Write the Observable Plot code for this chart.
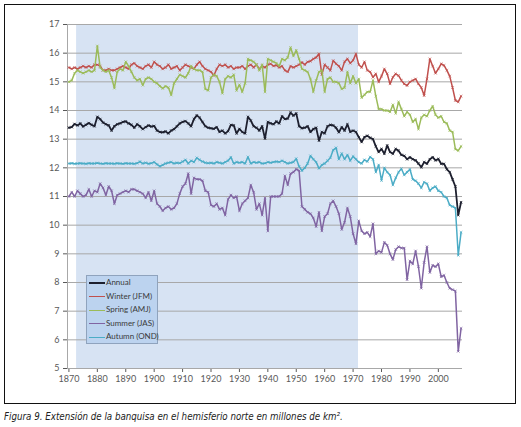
<!DOCTYPE html>
<html>
<head>
<meta charset="utf-8">
<script src="https://cdn.jsdelivr.net/npm/d3@7"></script>
<script src="https://cdn.jsdelivr.net/npm/@observablehq/plot@0.6"></script>
<style>
  body { margin: 0; background: #fff; width: 521px; height: 427px; position: relative; overflow: hidden; }
  #chart { position: absolute; left: 0; top: 0; }
  #frame { position: absolute; left: 4px; top: 4px; width: 510px; height: 398px; border: 1px solid #111; pointer-events: none; }
  #legend { position: absolute; left: 86px; top: 275px; width: 70px; height: 67px; background: #bcd3ef; border: 1px solid #8fa3bd; font: 8px Lato, sans-serif; color: #3a3a3a; }
  #legend .row { position: absolute; left: 2px; height: 10px; line-height: 10px; white-space: nowrap; }
  #legend .sw { display: inline-block; width: 16px; height: 0; vertical-align: middle; margin-right: 1px; }
  #caption { position: absolute; left: 4px; top: 410px; font: italic 11px "Liberation Sans Narrow", "DejaVu Sans Condensed", "Liberation Sans", sans-serif; color: #222; white-space: nowrap; transform: scaleX(0.88); transform-origin: left top; }
</style>
</head>
<body>
<div id="chart"></div>
<div id="frame"></div>
<div id="legend"></div>
<div id="caption">Figura 9. Extensión de la banquisa en el hemisferio norte en millones de km².</div>
<script>
const firstYear = 1870;
const xTicks = [1870, 1880, 1890, 1900, 1910, 1920, 1930, 1940, 1950, 1960, 1970, 1980, 1990, 2000];
const yTicks = [5, 6, 7, 8, 9, 10, 11, 12, 13, 14, 15, 16, 17];
const shadedPeriod = [1872.7, 1971.9];
const seriesNames = ["Annual", "Winter (JFM)", "Spring (AMJ)", "Summer (JAS)", "Autumn (OND)"];
const seriesColors = ["#1d1f2e", "#c0504d", "#9bbb59", "#8064a2", "#4bacc6"];

const annual = [
13.40,13.42,13.53,13.48,13.55,13.44,13.50,13.56,13.50,13.45,
13.78,13.70,13.58,13.52,13.48,13.30,13.45,13.52,13.55,13.60,
13.62,13.55,13.50,13.40,13.52,13.45,13.35,13.42,13.48,13.44,
13.46,13.30,13.25,13.24,13.27,13.20,13.30,13.35,13.45,13.55,
13.60,13.63,13.55,13.45,13.70,13.83,13.75,13.60,13.45,13.40,
13.38,13.36,13.42,13.25,13.30,13.20,13.28,13.50,13.48,13.20,
13.36,13.25,13.20,13.78,13.65,13.45,13.40,13.30,13.45,13.02,
13.60,13.55,13.52,13.62,13.55,13.80,13.70,13.72,13.93,13.82,
13.90,13.45,13.38,13.40,13.45,13.25,13.35,13.40,12.95,13.25,
13.20,13.45,13.50,13.48,13.40,13.24,13.42,13.30,13.52,13.25,
13.30,13.25,13.07,12.90,13.07,13.12,13.05,13.00,12.75,12.55,
12.66,12.49,12.78,12.55,12.49,12.66,12.60,12.45,12.42,12.30,
12.37,12.30,12.26,12.15,12.02,12.20,12.14,12.30,12.37,12.26,
12.31,12.14,12.14,11.95,11.85,11.60,11.35,10.35,10.80];

const winter = [
15.50,15.45,15.50,15.45,15.50,15.55,15.50,15.55,15.50,15.60,
15.60,15.55,15.40,15.40,15.45,15.40,15.40,15.45,15.50,15.55,
15.50,15.45,15.60,15.65,15.55,15.50,15.45,15.55,15.60,15.50,
15.70,15.60,15.55,15.45,15.50,15.60,15.45,15.50,15.55,15.40,
15.50,15.60,15.55,15.50,15.45,15.60,15.70,15.55,15.45,15.40,
15.35,15.22,15.45,15.60,15.55,15.60,15.50,15.55,15.45,15.50,
15.50,15.55,15.45,15.55,15.60,15.50,15.60,15.45,15.55,15.50,
15.60,15.63,15.55,15.58,15.50,15.55,15.40,15.35,15.55,15.50,
15.55,15.60,15.68,15.60,15.70,15.72,15.80,15.85,15.98,15.25,
15.60,15.50,15.40,15.74,15.63,15.55,15.40,15.70,15.80,15.65,
15.75,15.98,15.60,15.50,15.70,15.40,15.35,15.16,15.28,15.00,
15.20,15.45,15.28,14.93,15.16,15.28,15.22,15.05,14.93,14.87,
15.00,15.05,15.10,14.93,14.80,14.52,15.10,15.80,15.55,15.30,
15.45,15.63,15.57,15.40,15.20,14.80,14.35,14.30,14.50];

const spring = [
15.00,15.05,15.30,15.40,15.35,15.30,15.35,15.40,15.35,15.40,
16.25,15.50,15.40,15.35,15.40,15.15,14.78,15.35,15.45,15.40,
15.70,15.55,15.35,15.15,15.05,15.10,14.88,15.10,15.15,15.10,
15.00,14.95,14.85,14.77,14.85,14.80,14.54,14.95,15.10,15.25,
15.20,15.15,15.30,15.55,15.45,15.40,15.40,15.35,14.75,14.70,
15.15,15.25,15.20,15.00,14.60,15.10,15.20,15.15,15.25,14.70,
14.90,14.65,14.95,15.80,15.75,15.70,15.60,15.40,15.60,14.65,
15.80,15.75,15.70,15.65,15.55,15.80,15.75,15.85,16.20,15.90,
16.10,15.80,15.45,15.40,15.35,15.10,14.65,15.05,15.35,15.40,
14.65,15.10,15.15,15.00,15.00,14.95,14.75,14.80,15.35,14.95,
15.20,14.95,15.10,14.45,14.55,14.65,14.65,15.05,14.50,14.05,
14.05,14.00,14.00,13.95,14.20,13.90,14.30,14.05,13.80,13.95,
13.85,13.60,13.70,13.35,13.75,13.85,13.80,14.00,14.15,13.85,
13.75,13.80,13.60,13.55,13.30,13.25,12.65,12.60,12.75];

const summer = [
11.00,11.15,11.00,11.20,11.10,11.00,11.05,11.25,11.00,11.20,
11.15,11.45,11.30,11.05,11.35,11.20,10.75,11.05,11.10,11.15,
11.20,11.15,11.25,11.25,11.20,11.15,11.10,10.95,11.15,10.85,
11.20,10.75,10.65,10.50,10.60,10.65,10.55,10.60,10.75,11.10,
11.35,11.45,11.80,11.10,11.65,11.60,11.60,11.55,11.20,11.15,
10.70,10.65,10.75,10.55,10.60,10.35,10.90,11.05,10.95,11.00,
10.50,10.75,10.85,10.95,11.40,11.15,10.55,10.75,10.35,10.95,
9.80,11.00,11.00,11.00,11.00,11.10,11.72,11.40,11.80,11.85,
11.95,11.90,10.65,10.55,10.45,10.40,10.25,9.95,10.45,9.80,
10.30,10.40,10.75,10.85,10.65,10.40,9.85,10.10,10.60,10.30,
9.70,9.35,10.15,9.80,9.70,9.75,9.60,10.05,9.00,9.10,
9.05,9.40,9.30,9.00,8.80,9.15,9.25,9.20,9.20,8.10,
8.75,8.65,9.10,8.55,7.80,8.70,9.25,8.35,8.60,8.55,
8.65,8.20,8.25,8.00,7.80,7.75,7.70,5.60,6.40];

const autumn = [
12.15,12.16,12.14,12.15,12.16,12.15,12.14,12.16,12.15,12.15,
12.17,12.15,12.14,12.16,12.15,12.15,12.14,12.16,12.15,12.14,
12.16,12.15,12.15,12.14,12.16,12.22,12.15,12.18,12.14,12.16,
12.20,12.12,12.05,12.10,12.15,12.18,12.20,12.15,12.18,12.16,
12.22,12.28,12.15,12.25,12.20,12.35,12.28,12.22,12.18,12.16,
12.18,12.15,12.20,12.18,12.15,12.20,12.25,12.37,12.15,12.20,
12.18,12.20,12.15,12.38,12.15,12.20,12.18,12.20,12.15,12.16,
12.20,12.18,12.20,12.22,12.20,12.25,12.20,12.15,12.18,12.20,
12.32,12.05,11.90,12.00,12.15,12.42,12.30,12.20,11.98,12.10,
12.15,12.25,12.35,12.62,12.70,12.30,12.50,12.30,12.45,12.25,
12.40,12.30,12.20,12.15,12.28,12.22,12.38,12.30,11.85,12.10,
11.56,12.00,11.85,11.75,11.40,11.65,11.85,11.97,11.75,11.85,
11.95,11.60,11.55,11.45,11.30,11.50,11.45,11.20,11.30,11.35,
11.20,11.15,11.00,10.95,10.70,10.65,10.60,8.95,9.75];

const years = d3.range(firstYear, firstYear + annual.length);
const allSeries = [annual, winter, spring, summer, autumn];
const xDomain = [firstYear - 0.5, years[years.length - 1] + 0.5];
const yDomain = [yTicks[0], yTicks[yTicks.length - 1]];

const lineMarks = [];
allSeries.forEach((vals, k) => {
  const rows = years.map((year, i) => ({year, value: vals[i]}));
  lineMarks.push(Plot.line(rows, {x: "year", y: "value", stroke: seriesColors[k], strokeWidth: k === 0 ? 1.8 : 1.5}));
  lineMarks.push(Plot.dot(rows, {x: "year", y: "value", stroke: seriesColors[k], symbol: "times", r: 1.3, strokeWidth: 0.7}));
});

const chart = Plot.plot({
  width: 521,
  height: 400,
  marginLeft: 67,
  marginRight: 59,
  marginTop: 24,
  marginBottom: 32,
  style: {background: "transparent", fontFamily: "Lato, sans-serif", fontSize: "9px", color: "#595959"},
  x: {domain: xDomain, ticks: xTicks, tickFormat: d => String(d), tickSize: 4, tickPadding: 3, label: null},
  y: {domain: yDomain, ticks: yTicks, tickFormat: d => String(d), tickSize: 4, tickPadding: 4, label: null},
  marks: [
    Plot.rect([shadedPeriod], {x1: d => d[0], x2: d => d[1], y1: () => yDomain[0], y2: () => yDomain[1], fill: "#d7e3f3"}),
    Plot.ruleY(yTicks, {stroke: "#a8a8a8", strokeWidth: 1}),
    Plot.ruleX([xDomain[0]], {stroke: "#a8a8a8", strokeWidth: 1}),
    ...lineMarks
  ]
});
document.getElementById("chart").appendChild(chart);

const legend = document.getElementById("legend");
seriesNames.forEach((name, k) => {
  const row = document.createElement("div");
  row.className = "row";
  row.style.top = (1 + k * 13.6) + "px";
  const sw = document.createElement("span");
  sw.className = "sw";
  sw.style.borderTop = (k === 0 ? 2 : 1.5) + "px solid " + seriesColors[k];
  row.appendChild(sw);
  row.appendChild(document.createTextNode(name));
  legend.appendChild(row);
});
</script>
</body>
</html>
